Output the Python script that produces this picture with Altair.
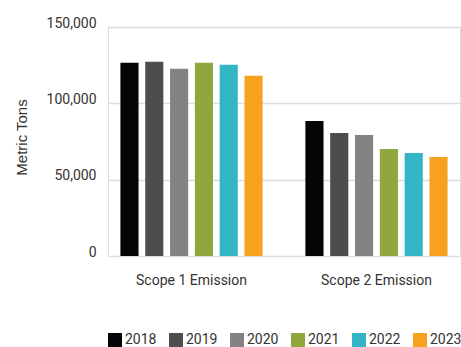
import altair as alt
import pandas as pd

categories = ["Scope 1 Emission", "Scope 2 Emission"]
years = ["2018", "2019", "2020", "2021", "2022", "2023"]
scope1 = [126600, 127300, 122700, 126600, 125300, 118100]
scope2 = [88500, 80600, 79300, 70100, 67400, 64800]
colors = ["#050505", "#4d4d4d", "#838383", "#8fa83e", "#33b5c6", "#f7a21e"]

rows = []
for y, v in zip(years, scope1):
    rows.append({"cat": categories[0], "year": y, "value": v})
for y, v in zip(years, scope2):
    rows.append({"cat": categories[1], "year": y, "value": v})
df = pd.DataFrame(rows)

FONT = "Roboto"
TXT = "#333333"

chart = alt.Chart(df).mark_bar().encode(
    x=alt.X("cat:N", sort=categories, title=None,
            scale=alt.Scale(paddingInner=0.195, paddingOuter=0.049),
            axis=alt.Axis(labelAngle=0, domain=False, ticks=False, labelPadding=17,
                          labelFontSize=14, labelColor=TXT, labelFont=FONT)),
    xOffset=alt.XOffset("year:N", sort=years,
                        scale=alt.Scale(paddingInner=0.27, paddingOuter=0.135)),
    y=alt.Y("value:Q", title="Metric Tons",
            scale=alt.Scale(domain=[0, 150000], nice=False),
            axis=alt.Axis(values=[0, 50000, 100000, 150000], format=",d",
                          domain=False, ticks=False, labelPadding=12,
                          labelFontSize=14, labelColor=TXT, labelFont=FONT,
                          labelOffset=-4,
                          titleFont="Liberation Sans", titleFontSize=15, titleColor=TXT,
                          titleFontWeight="normal",
                          titleX=-87, titleY=110, titleAngle=270,
                          titleAlign="center", titleBaseline="middle",
                          gridColor="#dddddd", gridWidth=1.5)),
    color=alt.Color("year:N", sort=years,
                    scale=alt.Scale(domain=years, range=colors),
                    legend=alt.Legend(title=None, orient="none", legendX=0, legendY=306,
                                      direction="horizontal", columns=6,
                                      symbolType="square", symbolSize=196,
                                      symbolStrokeWidth=0, labelFontSize=14,
                                      labelFont=FONT, labelColor=TXT,
                                      labelOffset=3, columnPadding=12)),
).properties(
    width=352, height=229,
    autosize=alt.AutoSizeParams(type="none"),
    padding={"left": 108, "top": 27, "right": 1, "bottom": 91},
).configure_view(stroke=None).configure(background="white")

chart.save("out.html", embed_options={"renderer": "svg", "actions": False})
